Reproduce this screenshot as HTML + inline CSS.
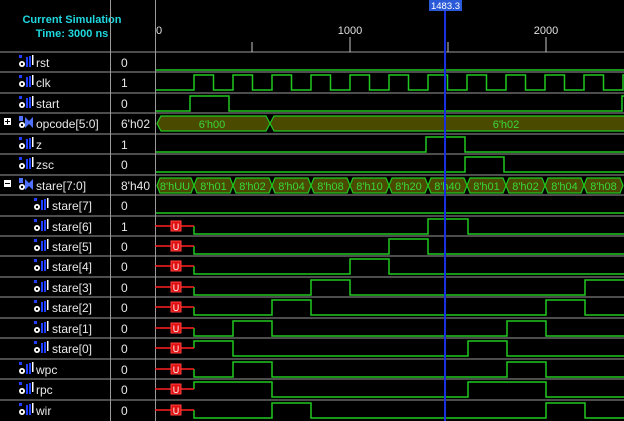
<!DOCTYPE html>
<html><head><meta charset="utf-8"><style>
html,body{margin:0;padding:0;background:#000;}
svg{display:block}
text{font-family:"Liberation Sans",Arial,sans-serif;}
</style></head><body>
<svg width="624" height="421" viewBox="0 0 624 421" xmlns="http://www.w3.org/2000/svg">
<defs>
<g id="ic">
<rect x="0" y="0" width="3" height="3" fill="#2040ff"/>
<circle cx="3" cy="9" r="3" fill="#fff"/><circle cx="3" cy="9" r="1.2" fill="#000"/>
<rect x="7" y="2" width="2" height="10" fill="#2040ff"/>
<rect x="10" y="1" width="2" height="11" fill="#2040ff"/>
<rect x="13" y="0" width="1.5" height="10" fill="#fff"/>
</g>
<g id="ib">
<rect x="0" y="0" width="4" height="5" fill="#5070ff"/>
<circle cx="3" cy="9" r="3" fill="#fff"/><circle cx="3" cy="9" r="1.2" fill="#000"/>
<path d="M6 1 L10 5 L14 1 L14 12 L10 8 L6 12 Z" fill="#5070ff"/>
</g>
<g id="u">
<line x1="155" y1="0" x2="194" y2="0" stroke="#ff2020" stroke-width="1.5"/>
<rect x="171" y="-5" width="10" height="10" fill="#e01010" stroke="#ff4040"/>
<text x="176" y="4" font-size="9" fill="#fff" text-anchor="middle">U</text>
</g>
</defs>
<text x="72" y="23" font-size="11" font-weight="bold" fill="#20d8e0" text-anchor="middle">Current Simulation</text>
<text x="72" y="37" font-size="11" font-weight="bold" fill="#20d8e0" text-anchor="middle">Time: 3000 ns</text>
<g stroke="#9a9a9a" stroke-width="1">
<line x1="0" y1="52" x2="624" y2="52"/><line x1="0" y1="72" x2="624" y2="72"/><line x1="0" y1="93" x2="624" y2="93"/>
<line x1="0" y1="113" x2="624" y2="113"/><line x1="0" y1="134" x2="624" y2="134"/><line x1="0" y1="154" x2="624" y2="154"/>
<line x1="0" y1="175" x2="624" y2="175"/><line x1="0" y1="195" x2="624" y2="195"/><line x1="0" y1="216" x2="624" y2="216"/>
<line x1="0" y1="236" x2="624" y2="236"/><line x1="0" y1="256" x2="624" y2="256"/><line x1="0" y1="277" x2="624" y2="277"/>
<line x1="0" y1="297" x2="624" y2="297"/><line x1="0" y1="318" x2="624" y2="318"/><line x1="0" y1="338" x2="624" y2="338"/>
<line x1="0" y1="359" x2="624" y2="359"/><line x1="0" y1="379" x2="624" y2="379"/><line x1="0" y1="400" x2="624" y2="400"/>
<line x1="110.5" y1="0" x2="110.5" y2="421"/><line x1="155.5" y1="0" x2="155.5" y2="421"/>
</g>
<g stroke="#c8c8c8"><line x1="252" y1="42" x2="252" y2="52"/><line x1="350" y1="37" x2="350" y2="52"/><line x1="448" y1="42" x2="448" y2="52"/><line x1="546" y1="37" x2="546" y2="52"/></g>
<g font-size="11" fill="#e0e0e0"><text x="156" y="34">0</text><text x="350" y="34" text-anchor="middle">1000</text><text x="546" y="34" text-anchor="middle">2000</text></g>
<g font-size="12" fill="#e8e8e8">
<use href="#ic" x="19" y="55"/><text x="36" y="67">rst</text>
<use href="#ic" x="19" y="75"/><text x="36" y="87">clk</text>
<use href="#ic" x="19" y="96"/><text x="36" y="108">start</text>
<rect x="4" y="118" width="7" height="7" fill="#fff"/><path d="M5 121.5h5M7.5 119v5" stroke="#000"/>
<use href="#ib" x="19" y="116"/><text x="36" y="128">opcode[5:0]</text>
<use href="#ic" x="19" y="137"/><text x="36" y="149">z</text>
<use href="#ic" x="19" y="157"/><text x="36" y="169">zsc</text>
<rect x="4" y="180" width="7" height="7" fill="#fff"/><path d="M5 183.5h5" stroke="#000"/>
<use href="#ib" x="19" y="178"/><text x="36" y="190">stare[7:0]</text>
<use href="#ic" x="34" y="198"/><text x="52" y="210">stare[7]</text>
<use href="#ic" x="34" y="219"/><text x="52" y="231">stare[6]</text>
<use href="#ic" x="34" y="239"/><text x="52" y="251">stare[5]</text>
<use href="#ic" x="34" y="259"/><text x="52" y="271">stare[4]</text>
<use href="#ic" x="34" y="280"/><text x="52" y="292">stare[3]</text>
<use href="#ic" x="34" y="300"/><text x="52" y="312">stare[2]</text>
<use href="#ic" x="34" y="321"/><text x="52" y="333">stare[1]</text>
<use href="#ic" x="34" y="341"/><text x="52" y="353">stare[0]</text>
<use href="#ic" x="19" y="362"/><text x="36" y="374">wpc</text>
<use href="#ic" x="19" y="382"/><text x="36" y="394">rpc</text>
<use href="#ic" x="19" y="403"/><text x="36" y="415">wir</text>
</g>
<g font-size="12" fill="#e8e8e8">
<text x="121" y="67">0</text><text x="121" y="87">1</text><text x="121" y="108">0</text><text x="121" y="128">6'h02</text>
<text x="121" y="149">1</text><text x="121" y="169">0</text><text x="121" y="190">8'h40</text>
<text x="121" y="210">0</text><text x="121" y="231">1</text><text x="121" y="251">0</text><text x="121" y="271">0</text>
<text x="121" y="292">0</text><text x="121" y="312">0</text><text x="121" y="333">0</text><text x="121" y="353">0</text>
<text x="121" y="374">0</text><text x="121" y="394">0</text><text x="121" y="415">0</text>
</g>
<g fill="none" stroke="#20c820" stroke-width="1.5">
<polyline points="156,70 624,70"/>
<polyline points="156,90 194,90 194,75 213.5,75 213.5,90 233,90 233,75 252.5,75 252.5,90 272,90 272,75 291.5,75 291.5,90 311,90 311,75 330.5,75 330.5,90 350,90 350,75 369.5,75 369.5,90 389,90 389,75 408.5,75 408.5,90 428,90 428,75 447.5,75 447.5,90 467,90 467,75 486.5,75 486.5,90 506,90 506,75 525.5,75 525.5,90 545,90 545,75 564.5,75 564.5,90 584,90 584,75 603.5,75 603.5,90 623,90 623,75 624,75"/>
<polyline points="156,111 190,111 190,96 229,96 229,111 622,111 622,96 624,96"/>
<polyline points="156,152 426,152 426,137 465,137 465,152 624,152"/>
<polyline points="156,172 465,172 465,157 504,157 504,172 624,172"/>
<polyline points="156,213 624,213"/>
<polyline points="194,226 194,234 428,234 428,219 468,219 468,234 624,234"/>
<polyline points="194,246 194,254 389,254 389,239 428,239 428,254 624,254"/>
<polyline points="194,266 194,274 350,274 350,259 389,259 389,274 624,274"/>
<polyline points="194,287 194,295 311,295 311,280 350,280 350,295 585,295 585,280 624,280"/>
<polyline points="194,307 194,315 272,315 272,300 311,300 311,315 546,315 546,300 585,300 585,315 624,315"/>
<polyline points="194,328 194,336 233,336 233,321 272,321 272,336 507,336 507,321 546,321 546,336 624,336"/>
<polyline points="194,348 194,341 233,341 233,356 468,356 468,341 507,341 507,356 624,356"/>
<polyline points="194,369 194,377 233,377 233,362 272,362 272,377 507,377 507,362 546,362 546,377 624,377"/>
<polyline points="194,389 194,382 272,382 272,397 468,397 468,382 546,382 546,397 624,397"/>
<polyline points="194,410 194,418 272,418 272,403 311,403 311,418 546,418 546,403 585,403 585,418 624,418"/>
</g>
<use href="#u" y="226"/><use href="#u" y="246"/><use href="#u" y="266"/><use href="#u" y="287"/>
<use href="#u" y="307"/><use href="#u" y="328"/><use href="#u" y="348"/><use href="#u" y="369"/>
<use href="#u" y="389"/><use href="#u" y="410"/>
<g fill="#4a4a00" stroke="#20c820" stroke-width="1.2">
<polygon points="157,123.5 161,116 266,116 270,123.5 266,131 161,131"/>
<polygon points="270,123.5 274,116 630,116 630,131 274,131"/>
<polygon points="157,185.5 160,178 191,178 194,185.5 191,193 160,193"/>
<polygon points="194,185.5 197,178 230,178 233,185.5 230,193 197,193"/>
<polygon points="233,185.5 236,178 269,178 272,185.5 269,193 236,193"/>
<polygon points="272,185.5 275,178 308,178 311,185.5 308,193 275,193"/>
<polygon points="311,185.5 314,178 347,178 350,185.5 347,193 314,193"/>
<polygon points="350,185.5 353,178 386,178 389,185.5 386,193 353,193"/>
<polygon points="389,185.5 392,178 425,178 428,185.5 425,193 392,193"/>
<polygon points="428,185.5 431,178 464,178 467,185.5 464,193 431,193"/>
<polygon points="467,185.5 470,178 503,178 506,185.5 503,193 470,193"/>
<polygon points="506,185.5 509,178 542,178 545,185.5 542,193 509,193"/>
<polygon points="545,185.5 548,178 581,178 584,185.5 581,193 548,193"/>
<polygon points="584,185.5 587,178 620,178 623,185.5 620,193 587,193"/>
</g>
<g font-size="11" fill="#38d838" text-anchor="middle">
<text x="212" y="128">6'h00</text><text x="506" y="128">6'h02</text>
<text x="175" y="190">8'hUU</text><text x="213.5" y="190">8'h01</text><text x="252.5" y="190">8'h02</text>
<text x="291.5" y="190">8'h04</text><text x="330.5" y="190">8'h08</text><text x="369.5" y="190">8'h10</text>
<text x="408.5" y="190">8'h20</text><text x="447.5" y="190">8'h40</text><text x="486.5" y="190">8'h01</text>
<text x="525.5" y="190">8'h02</text><text x="564.5" y="190">8'h04</text><text x="603.5" y="190">8'h08</text>
</g>
<line x1="445" y1="0" x2="445" y2="421" stroke="#1830e0" stroke-width="2"/>
<rect x="429" y="0" width="33" height="11" fill="#2a5ad8"/>
<text x="445.5" y="9" font-size="9.5" fill="#fff" text-anchor="middle">1483.3</text>
</svg>
</body></html>
